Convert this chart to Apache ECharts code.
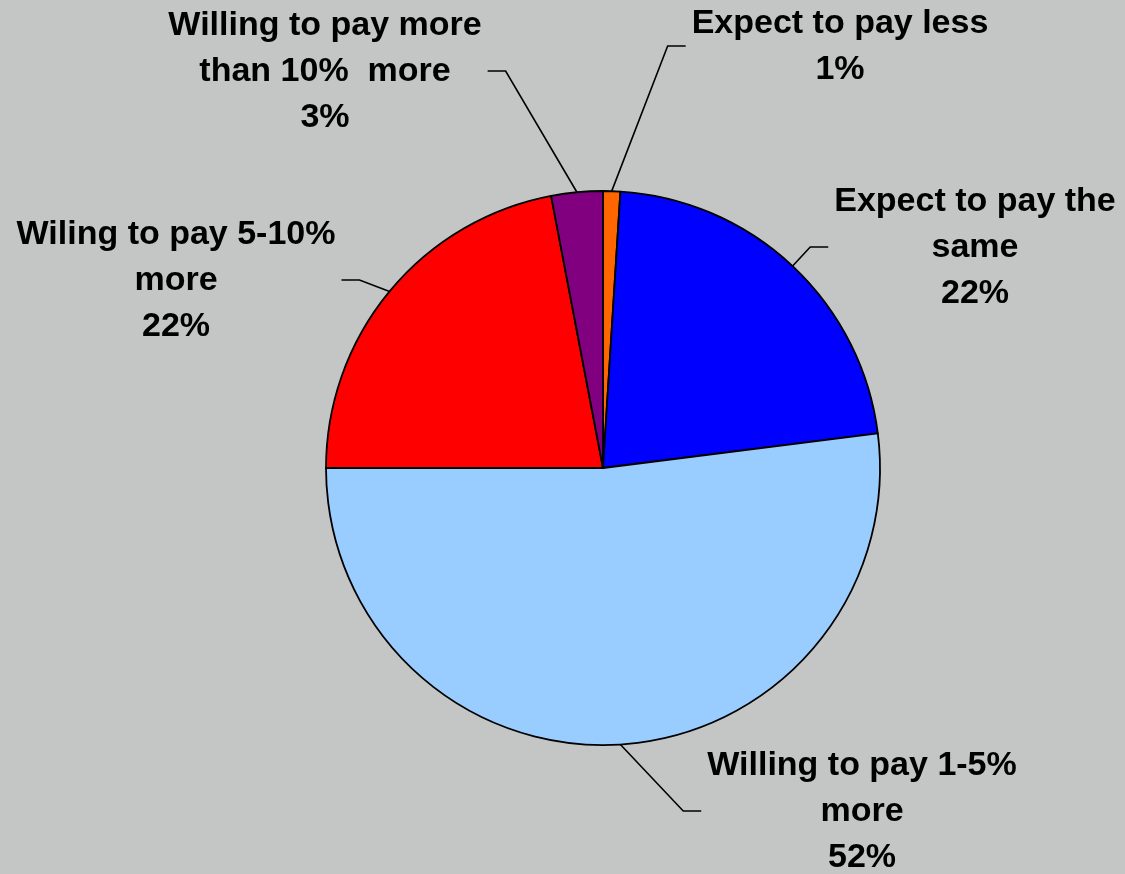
<!DOCTYPE html>
<html>
<head>
<meta charset="utf-8">
<script src="https://cdn.jsdelivr.net/npm/echarts@6/dist/echarts.min.js"></script>
<style>
  html, body { margin: 0; padding: 0; background: #C3C6C5; }
  #chart { width: 1125px; height: 874px; }
</style>
</head>
<body>
<div id="chart"></div>
<script>
// Survey answers, clockwise from 12 o'clock
var categories = [
  'Expect to pay less',
  'Expect to pay the\nsame',
  'Willing to pay 1-5%\nmore',
  'Wiling to pay 5-10%\nmore',
  'Willing to pay more\nthan 10%  more'
];
var shares = [1, 22, 52, 22, 3];
var sliceColors = ['#FF6600', '#0000FF', '#99CCFF', '#FF0000', '#800080'];

// Label anchor (block centre) and which side the leader line enters from
var labelSpots = [
  { x: 840, y: 47, side: 'left' },
  { x: 975, y: 248, side: 'left' },
  { x: 862, y: 812, side: 'left' },
  { x: 176, y: 281, side: 'right' },
  { x: 325, y: 72, side: 'right' }
];

var chart = echarts.init(document.getElementById('chart'), null, { renderer: 'canvas' });

chart.setOption({
  backgroundColor: '#C3C6C5',
  animation: false,
  series: [{
    type: 'pie',
    center: [603, 468],
    radius: 277,
    startAngle: 90,
    clockwise: true,
    avoidLabelOverlap: false,
    data: categories.map(function (name, i) {
      return { name: name, value: shares[i], itemStyle: { color: sliceColors[i] } };
    }),
    itemStyle: { borderColor: '#000', borderWidth: 1.8 },
    label: {
      show: true,
      position: 'outside',
      color: '#000',
      fontFamily: '"Liberation Sans", Arial, sans-serif',
      fontWeight: 'bold',
      fontSize: 34,
      lineHeight: 46,
      align: 'center',
      formatter: function (p) { return p.name + '\n' + p.value + '%'; }
    },
    labelLine: {
      show: true,
      length: 20,
      length2: 20,
      lineStyle: { color: '#000', width: 1.6 }
    },
    labelLayout: function (params) {
      var spot = labelSpots[params.dataIndex];
      var w = params.labelRect.width;
      var start = params.labelLinePoints ? params.labelLinePoints[0] : null;
      var gap = 6;
      var tail = 18;
      var endX = spot.side === 'left' ? spot.x - w / 2 - gap : spot.x + w / 2 + gap;
      var elbowX = spot.side === 'left' ? endX - tail : endX + tail;
      var out = {
        x: spot.x,
        y: spot.y,
        align: 'center',
        verticalAlign: 'middle'
      };
      if (start) {
        out.labelLinePoints = [
          [start[0], start[1]],
          [elbowX, spot.y - 1],
          [endX, spot.y - 1]
        ];
      }
      return out;
    }
  }]
});
</script>
</body>
</html>
